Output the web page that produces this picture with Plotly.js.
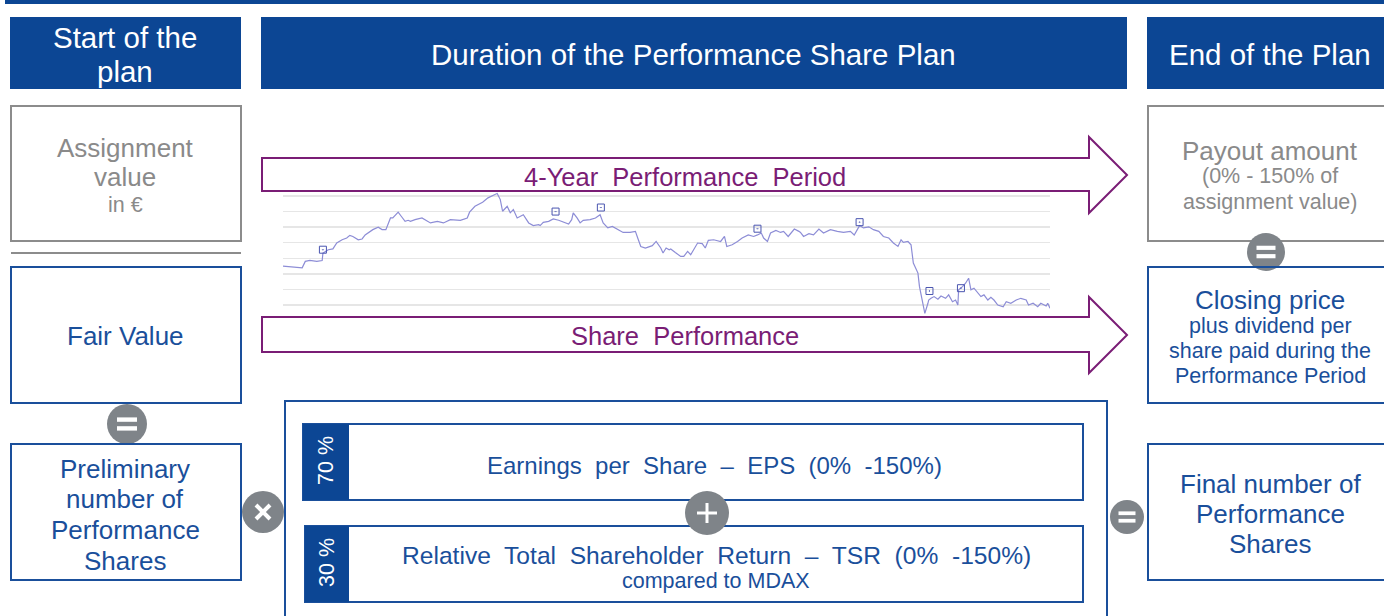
<!DOCTYPE html>
<html><head><meta charset="utf-8">
<script src="https://cdn.plot.ly/plotly-3.0.1.min.js"></script>
<style>html,body{margin:0;padding:0;background:#fff;}#chart{width:1384px;height:616px;}</style>
</head><body><div id="chart"></div>
<script>
// Share price index over the 4-year performance period (trading day, price in grid units)
const tradingDay = [0,13,25,29,35,44,51,52,59,65,70,77,83,87,91,98,103,107,111,117,124,129,134,137,140,143,150,154,159,163,166,172,181,192,201,209,218,231,240,243,250,260,267,276,279,283,286,292,296,300,305,313,320,326,333,335,339,346,352,359,365,372,376,378,383,387,391,400,407,413,417,423,429,437,443,452,459,462,466,472,481,486,492,495,499,503,505,511,518,522,527,531,535,540,546,550,554,561,570,575,578,585,592,598,606,613,618,623,626,631,635,642,648,652,658,666,672,674,678,685,691,698,704,713,722,730,739,744,748,751,756,763,769,776,782,789,795,801,805,808,814,818,821,827,829,833,836,840,841,844,848,853,857,863,867,872,876,879,880,885,889,893,896,900,905,909,913,918,922,926,931,938,942,948,955,961,968,971,977,983,987,994,996,999];
const sharePrice = [2.5,2.43,2.39,2.8,2.86,2.8,2.86,3.33,3.55,3.6,3.98,4.19,4.3,4.47,4.4,4.19,4.24,4.5,4.66,4.84,4.99,4.84,4.84,5.27,5.59,5.59,5.96,5.7,5.37,5.44,5.37,5.48,5.59,5.27,5.37,5.27,5.48,5.44,5.59,5.96,6.34,6.6,6.88,7.1,7.16,6.77,6.02,6.34,5.92,6.13,5.59,5.8,5.27,5.1,5.16,5.1,5.31,5.37,5.53,5.44,5.31,5.2,5.48,5.92,5.59,5.27,5.44,5.48,5.59,5.8,5.27,4.95,5.05,4.84,4.66,4.66,4.73,4.3,3.76,3.66,3.81,4.08,3.66,3.34,3.66,3.55,3.6,3.37,3.12,3.12,3.44,3.23,3.6,3.98,3.94,3.66,4.15,4.19,4.08,4.4,3.76,3.87,4.08,4.3,4.5,4.4,4.5,4.62,4.3,4.08,4.62,4.79,4.66,4.73,4.4,4.88,4.73,4.66,4.4,4.58,4.5,4.88,4.62,4.84,4.73,4.66,4.73,4.5,4.84,5.1,4.95,5.02,4.84,4.73,4.4,4.3,3.98,3.76,4.19,4.02,4.08,3.87,2.69,2.05,1.18,0.11,-0.54,0.11,0.32,0.43,0.54,0.37,0.58,0.43,0.65,0.21,0.32,0,0.97,1.18,1.4,1.72,0.97,1.08,0.75,0.54,0.65,0.32,0.5,0.32,0,-0.11,0.21,0.11,0.32,0.43,0.32,0,0.11,-0.11,0.11,-0.06,0.11,-0.21];
// Event markers on the price line
const eventDay = [52,355,414,618,751,842,883];
const eventPrice = [3.55,6.0,6.26,4.9,5.32,0.9,1.08];

// Diagram texts
const headerStart = ["Start of the","plan"];
const headerMid = "Duration of the Performance Share Plan";
const headerEnd = "End of the Plan";
const arrowTop = "4-Year  Performance  Period";
const arrowBottom = "Share  Performance";

const W = 1384, H = 616;
const X = p => p / W, Y = p => 1 - p / H;
const BLUE_DARK = '#0c4694', BLUE = '#1a4f9b', GRAY = '#8a8a8a', PURPLE = '#7a1d75', CIRC = '#7f8489';
const FONT = 'Arial, "Liberation Sans", sans-serif';
const HEAD = 29.5, MAIN = 26, SMALL = 21.5;

const shapes = [];
const annotations = [];
function rect(x0, y0, x1, y1, lineColor, fill, lw) {
  shapes.push({type:'rect', xref:'paper', yref:'paper', x0:X(x0), x1:X(x1), y0:Y(y1), y1:Y(y0),
    line:{color: lineColor || 'rgba(0,0,0,0)', width: lw === undefined ? 2 : lw}, fillcolor: fill || 'rgba(0,0,0,0)', layer:'above'});
}
function line(x0, y0, x1, y1, color, w) {
  shapes.push({type:'line', xref:'paper', yref:'paper', x0:X(x0), x1:X(x1), y0:Y(y0), y1:Y(y1),
    line:{color:color, width:w}, layer:'above'});
}
function circle(cx, cy, r, fill) {
  shapes.push({type:'circle', xref:'paper', yref:'paper', x0:X(cx-r), x1:X(cx+r), y0:Y(cy+r), y1:Y(cy-r),
    line:{width:0, color:fill}, fillcolor:fill, layer:'above'});
}
function path(pts, color) {
  const d = pts.map((p,i)=> (i? 'L':'M') + X(p[0]) + ',' + Y(p[1])).join(' ') + ' Z';
  shapes.push({type:'path', xref:'paper', yref:'paper', path:d, line:{color:color, width:2}, fillcolor:'rgba(0,0,0,0)', layer:'above'});
}
function txt(x, y, s, size, color, extra) {
  annotations.push(Object.assign({xref:'paper', yref:'paper', x:X(x), y:Y(y), text:s, showarrow:false,
    xanchor:'center', yanchor:'middle', font:{family:FONT, size:size, color:color}}, extra || {}));
}
function equalSign(cx, cy, r) {
  circle(cx, cy, r, CIRC);
  line(cx - r*0.5, cy - r*0.22, cx + r*0.5, cy - r*0.22, '#fff', r*0.22);
  line(cx - r*0.5, cy + r*0.22, cx + r*0.5, cy + r*0.22, '#fff', r*0.22);
}

// top rule
rect(5, 0, 1384, 4, null, BLUE_DARK, 0);
// headers
rect(10, 17, 241, 89, null, BLUE_DARK, 0);
rect(261, 17, 1127, 89, null, BLUE_DARK, 0);
rect(1147, 17, 1392, 89, null, BLUE_DARK, 0);
txt(125, 38, headerStart[0], HEAD, '#fff');
txt(125, 71, headerStart[1], HEAD, '#fff');
txt(694, 54, headerMid, HEAD, '#fff');
txt(1270, 54, headerEnd, HEAD, '#fff');

// left column
rect(11, 106, 241, 241, '#8c8c8c', null, 2);
txt(125, 148, 'Assignment', MAIN, GRAY);
txt(125, 177, 'value', MAIN, GRAY);
txt(125, 205, 'in €', SMALL, GRAY);
line(11, 253, 241, 253, '#8c8c8c', 2);
rect(11, 267, 241, 403, BLUE, null, 2);
txt(125, 336, 'Fair Value', MAIN, BLUE);
equalSign(127, 424, 20);
rect(11, 444, 241, 580, BLUE, null, 2);
txt(125, 469, 'Preliminary', MAIN, BLUE);
txt(125, 499, 'number of', MAIN, BLUE);
txt(125, 530, 'Performance', MAIN, BLUE);
txt(125, 561, 'Shares', MAIN, BLUE);
circle(263, 512, 21, CIRC);
line(256, 505, 270, 519, '#fff', 4);
line(256, 519, 270, 505, '#fff', 4);

// arrows
path([[262,158],[1089,158],[1089,137],[1127,175],[1089,213],[1089,191],[262,191]], PURPLE);
txt(685, 177, arrowTop, 25.5, PURPLE);
path([[262,317],[1089,317],[1089,297],[1127,335],[1089,373],[1089,352],[262,352]], PURPLE);
txt(685, 336, arrowBottom, 25.5, PURPLE);

// bottom centre block
rect(285, 401, 1107, 630, BLUE, null, 2);
rect(303, 424, 1083, 500, BLUE, null, 2);
rect(303, 424, 349, 500, null, BLUE_DARK, 0);
txt(326, 461, '70 %', SMALL, '#fff', {textangle:-90});
txt(714, 465, 'Earnings  per  Share  –  EPS  (0%  -150%)', 24, BLUE);
rect(305, 526, 1083, 602, BLUE, null, 2);
rect(305, 526, 349, 602, null, BLUE_DARK, 0);
txt(327, 563, '30 %', SMALL, '#fff', {textangle:-90});
txt(716, 555, 'Relative  Total  Shareholder  Return  –  TSR  (0%  -150%)', 24.6, BLUE);
txt(716, 581, 'compared to MDAX', SMALL, BLUE);
circle(707, 513, 22, CIRC);
line(697, 513, 717, 513, '#fff', 3);
line(707, 503, 707, 523, '#fff', 3);

// right column
rect(1148, 106, 1392, 241, '#8c8c8c', null, 2);
txt(1270, 151, 'Payout amount', MAIN, GRAY);
txt(1270, 176, '(0% - 150% of', SMALL, GRAY);
txt(1270, 202, 'assignment value)', SMALL, GRAY);
equalSign(1266, 252, 19);
rect(1148, 267, 1392, 403, BLUE, null, 2);
txt(1270, 300, 'Closing price', MAIN, BLUE);
txt(1270, 326, 'plus dividend per', SMALL, BLUE);
txt(1270, 351, 'share paid during the', SMALL, BLUE);
txt(1270, 376, 'Performance Period', SMALL, BLUE);
equalSign(1127, 517, 17);
rect(1148, 444, 1392, 580, BLUE, null, 2);
txt(1270, 484, 'Final number of', MAIN, BLUE);
txt(1270, 514, 'Performance', MAIN, BLUE);
txt(1270, 544, 'Shares', MAIN, BLUE);

// price chart geometry: v=0 at y=305px, v=7 at y=196px
const unit = (305 - 196) / 7;
const yMin = -0.7, yMax = 7.25;
const domBottom = 305 - yMin * unit, domTop = 305 - yMax * unit;

const data = [
  {x: tradingDay, y: sharePrice, type:'scatter', mode:'lines', line:{color:'#8d8dd6', width:1.2}, hoverinfo:'skip'},
  {x: eventDay, y: eventPrice, type:'scatter', mode:'markers', hoverinfo:'skip',
   marker:{symbol:'square-open-dot', size:7, color:'#4a55b0', line:{width:1, color:'#8d8dd6'}}}
];
const layout = {
  width: W, height: H, margin:{l:0, r:0, t:0, b:0}, showlegend:false,
  paper_bgcolor:'#fff', plot_bgcolor:'rgba(0,0,0,0)',
  xaxis:{domain:[X(283), X(1050)], range:[0, 999], showgrid:false, zeroline:false, showticklabels:false, ticks:'', showline:false},
  yaxis:{domain:[Y(domBottom), Y(domTop)], range:[yMin, yMax], tick0:0, dtick:1, showgrid:true, gridcolor:'#e6e6e6', gridwidth:1.5,
         zeroline:false, showticklabels:false, ticks:'', showline:false},
  shapes: shapes, annotations: annotations
};
Plotly.newPlot('chart', data, layout, {staticPlot:true, displayModeBar:false});
</script></body></html>
